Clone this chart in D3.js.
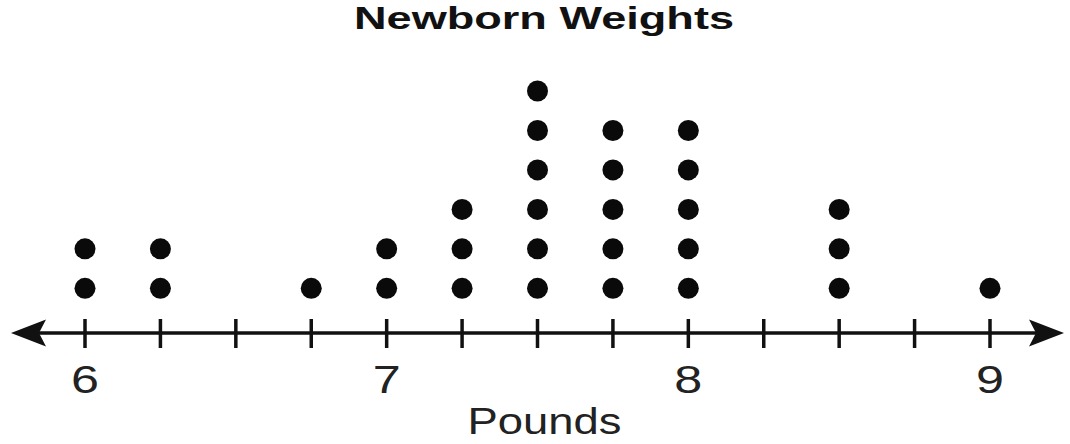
<!DOCTYPE html>
<html>
<head>
<meta charset="utf-8">
<script src="https://cdn.jsdelivr.net/npm/d3@7"></script>
<style>
  body { margin: 0; background: #fff; }
  text { font-family: "Liberation Sans", Arial, sans-serif; fill: #111; }
</style>
</head>
<body>
<div class="dot-plot"></div>
<script>
var weights = [6, 6.25, 6.5, 6.75, 7, 7.25, 7.5, 7.75, 8, 8.25, 8.5, 8.75, 9];
var counts = [2, 2, 0, 1, 2, 3, 6, 5, 5, 0, 3, 0, 1];
var tickLabels = [6, 7, 8, 9];

var width = 1070,
  height = 444,
  axisY = 333;

var svg = d3.select(".dot-plot")
  .append("svg")
  .attr("width", width)
  .attr("height", height);

var x = d3.scaleLinear().domain([6, 9]).range([85, 990]);
// stack height scale: row index -> y
var y = d3.scaleLinear().domain([0, 5]).range([288.3, 91]);

// flatten to one point per dot
var dots = [];
weights.forEach(function(w, i) {
  for (var k = 0; k < counts[i]; k++) dots.push({ w: w, k: k });
});

// title (the original type is wider than Liberation, so stretch it)
svg.append("text")
  .attr("x", 544)
  .attr("y", 29)
  .attr("text-anchor", "middle")
  .attr("textLength", 380)
  .attr("lengthAdjust", "spacingAndGlyphs")
  .style("font-weight", "bold")
  .style("font-size", "32px")
  .text("Newborn Weights");

// axis line with arrows
var left = x(6) - 74, right = x(9) + 74;
svg.append("line")
  .attr("x1", left + 10).attr("x2", right - 10)
  .attr("y1", axisY).attr("y2", axisY)
  .attr("stroke", "#111")
  .attr("stroke-width", 3.5);

function arrow(tip, dir) {
  var b = tip + dir * 35, n = tip + dir * 28;
  return "M" + tip + "," + axisY +
    "L" + b + "," + (axisY - 13.5) +
    "L" + n + "," + axisY +
    "L" + b + "," + (axisY + 13.5) + "Z";
}
svg.append("path").attr("d", arrow(left, 1)).attr("fill", "#111");
svg.append("path").attr("d", arrow(right, -1)).attr("fill", "#111");

// ticks
svg.selectAll(".tick")
  .data(weights)
  .enter().append("line")
    .attr("class", "tick")
    .attr("x1", function(d) { return x(d); })
    .attr("x2", function(d) { return x(d); })
    .attr("y1", axisY - 14)
    .attr("y2", axisY + 15)
    .attr("stroke", "#111")
    .attr("stroke-width", 3.5);

svg.selectAll(".tick-label")
  .data(tickLabels)
  .enter().append("text")
    .attr("class", "tick-label")
    .attr("x", function(d) { return x(d); })
    .attr("y", 393)
    .attr("text-anchor", "middle")
    .attr("textLength", 28)
    .attr("lengthAdjust", "spacingAndGlyphs")
    .style("font-size", "39px")
    .style("fill", "#222")
    .text(function(d) { return d; });

svg.append("text")
  .attr("x", 544.5)
  .attr("y", 434)
  .attr("text-anchor", "middle")
  .attr("textLength", 154)
  .attr("lengthAdjust", "spacingAndGlyphs")
  .style("font-size", "37px")
  .style("fill", "#222")
  .text("Pounds");

// dots
svg.selectAll(".dot")
  .data(dots)
  .enter().append("circle")
    .attr("class", "dot")
    .attr("cx", function(d) { return x(d.w); })
    .attr("cy", function(d) { return y(d.k); })
    .attr("r", 10.5)
    .attr("fill", "#0a0a0a");
</script>
</body>
</html>
